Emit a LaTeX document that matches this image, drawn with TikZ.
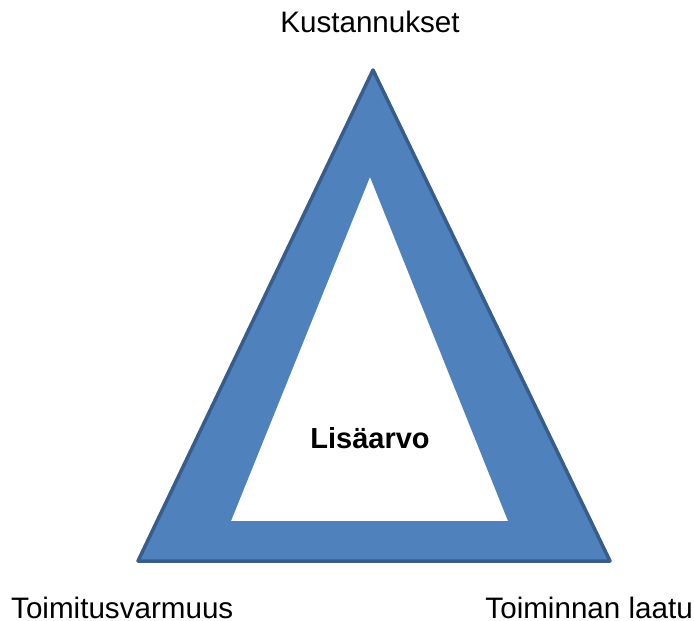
\documentclass[tikz,border=0pt]{standalone}
\usepackage{fontspec}
\setmainfont{Liberation Sans}
\definecolor{triFill}{HTML}{4F81BD}
\definecolor{triLine}{HTML}{385D8A}
\begin{document}
\begin{tikzpicture}[x=1pt,y=-1pt,
  label/.style={inner sep=0pt,anchor=base,font=\fontsize{29.6}{34}\selectfont}]
\useasboundingbox (0,0) rectangle (694,621);
% Outer triangle with the inner triangle cut out
\coordinate (top) at (373,70);
\coordinate (bl) at (138,561);
\coordinate (br) at (610,561);
\coordinate (itop) at (370,177);
\coordinate (ibl) at (231,521);
\coordinate (ibr) at (508,521);
\fill[triFill,even odd rule] (top) -- (br) -- (bl) -- cycle
  (itop) -- (ibr) -- (ibl) -- cycle;
\draw[triLine,line width=3.5pt,line join=round] (top) -- (br) -- (bl) -- cycle;
% Labels
\node[label] (cost) at (370,32) {Kustannukset};
\node[label,anchor=base west] (deliv) at (11,618.5) {Toimitusvarmuus};
\node[label,anchor=base east] (qual) at (693,618.5) {Toiminnan laatu};
\node[label,font=\fontsize{29}{34}\selectfont\bfseries] (value) at (370,448) {Lisäarvo};
\end{tikzpicture}
\end{document}
